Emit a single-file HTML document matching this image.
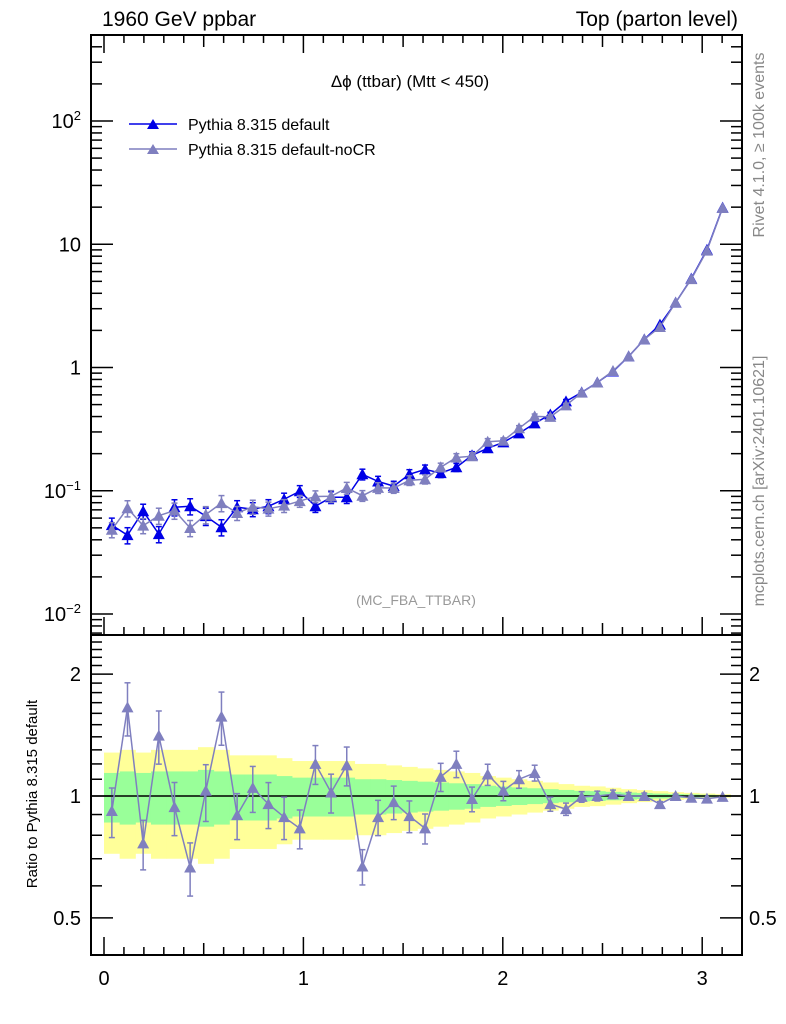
<!DOCTYPE html>
<html><head><meta charset="utf-8">
<style>
html,body{margin:0;padding:0;background:#fff;}
svg{display:block;font-family:"Liberation Sans",sans-serif;}
</style></head>
<body>
<svg id="chart" width="786" height="1024" viewBox="0 0 786 1024" xmlns="http://www.w3.org/2000/svg">
<text x="102" y="26" font-size="21">1960 GeV ppbar</text>
<text x="738" y="26" font-size="21" text-anchor="end">Top (parton level)</text>
<text x="410" y="87" font-size="17" text-anchor="middle">Δϕ (ttbar) (Mtt &lt; 450)</text>
<text x="416" y="605" font-size="14" fill="#999" text-anchor="middle">(MC_FBA_TTBAR)</text>
<text transform="translate(764,145) rotate(-90)" font-size="16" fill="#888" text-anchor="middle">Rivet 4.1.0, ≥ 100k events</text>
<text transform="translate(764,481) rotate(-90)" font-size="16" fill="#888" text-anchor="middle">mcplots.cern.ch [arXiv:2401.10621]</text>
<text transform="translate(37,794) rotate(-90)" font-size="15" text-anchor="middle">Ratio to Pythia 8.315 default</text>
<g>
<g>
<line x1="129" y1="124" x2="177" y2="124" stroke="#0000e6" stroke-width="1.5"/>
<path d="M147,129 L159,129 L153,119 Z" fill="#0000e6"/>
<text x="188" y="130" font-size="16">Pythia 8.315 default</text>
</g>
<g>
<line x1="129" y1="149" x2="177" y2="149" stroke="#7f7fbf" stroke-width="1.5"/>
<path d="M147,154 L159,154 L153,144 Z" fill="#7f7fbf"/>
<text x="188" y="155" font-size="16">Pythia 8.315 default-noCR</text>
</g>
</g>
<g id="g"></g>
</svg>
<script>
const defaultValues=[0.0526,0.0436,0.0682,0.0445,0.0735,0.0749,0.0622,0.0506,0.0735,0.0708,0.0749,0.0853,0.0991,0.0749,0.0885,0.0885,0.136,0.119,0.109,0.136,0.149,0.139,0.155,0.194,0.221,0.247,0.292,0.352,0.416,0.531,0.628,0.756,0.928,1.23,1.69,2.23,3.36,5.26,9.02,19.8];
const ratioValues=[0.918,1.655,0.764,1.41,0.939,0.666,1.03,1.57,0.897,1.047,0.955,0.887,0.832,1.20,1.02,1.19,0.670,0.887,0.966,0.892,0.832,1.115,1.20,0.983,1.13,1.03,1.10,1.14,0.955,0.928,0.995,1.0,1.01,1.0,1.0,0.955,1.0,0.99,0.985,0.995];
const relErrors=[0.14,0.15,0.14,0.15,0.15,0.15,0.16,0.15,0.13,0.13,0.13,0.12,0.11,0.11,0.11,0.11,0.10,0.10,0.095,0.09,0.085,0.08,0.075,0.07,0.06,0.055,0.05,0.045,0.04,0.035,0.03,0.028,0.024,0.02,0.017,0.014,0.011,0.009,0.007,0.005];
const xTickLabels=["0","1","2","3"];
const mainTickLabels=[[-2,"10<tspan dy='-8' font-size='13'>−2</tspan>"],[-1,"10<tspan dy='-8' font-size='13'>−1</tspan>"],[0,"1"],[1,"10"],[2,"10<tspan dy='-8' font-size='13'>2</tspan>"]];
const ratioTickLabels=["0.5","1","2"];

const NS="http://www.w3.org/2000/svg";
const G=document.getElementById('g');
const L=91,R=742,MT=35,MB=635,RB=955;
function X(v){return 104+v*199.4;}
function Ym(v){return 367.5-123.25*Math.log10(v);}
function Yr(v){return 796-405*Math.log10(v);}
function el(tag,attrs,parent){const e=document.createElementNS(NS,tag);for(const k in attrs)e.setAttribute(k,attrs[k]);(parent||G).appendChild(e);return e;}
const N=defaultValues.length,bw=Math.PI/N;
const centers=defaultValues.map((_,i)=>(i+0.5)*bw);
const noCR=defaultValues.map((v,i)=>v*ratioValues[i]);

const defs=el('defs',{});
const c1=el('clipPath',{id:'cm'},defs);el('rect',{x:L,y:MT,width:R-L,height:MB-MT},c1);
const c2=el('clipPath',{id:'cr'},defs);el('rect',{x:L,y:MB,width:R-L,height:RB-MB},c2);

const bands=el('g',{'clip-path':'url(#cr)'});


for(let i=0;i<N;i++){
  const x0=X(i*bw),x1=X((i+1)*bw),e=relErrors[i];
  const y=el('rect',{x:x0,y:Yr(1+2*e),width:x1-x0+0.5,height:Yr(1-2*e)-Yr(1+2*e),fill:'#ffff99'},bands);
  
  
}
for(let i=0;i<N;i++){
  const x0=X(i*bw),x1=X((i+1)*bw),e=relErrors[i];
  const g=el('rect',{x:x0,y:Yr(1+e),width:x1-x0+0.5,height:Yr(1-e)-Yr(1+e),fill:'#99ff99'},bands);
  
  
}
const one=el('line',{x1:L,x2:R,y1:Yr(1),y2:Yr(1),stroke:'#000','stroke-width':1.5});



function series(vals,errs,yf,color,name,clip){
  const g=el('g',{'clip-path':clip});
  
  
  el('polyline',{points:vals.map((v,i)=>X(centers[i])+','+yf(v)).join(' '),fill:'none',stroke:color,'stroke-width':1.5},g);
  vals.forEach((v,i)=>{
    const x=X(centers[i]),y=yf(v),yt=yf(v*(1+errs[i])),yb=yf(v*(1-errs[i]));
    if(yb-yt>3){
      el('line',{x1:x,x2:x,y1:yt,y2:yb,stroke:color,'stroke-width':1.5},g);
      el('line',{x1:x-3,x2:x+3,y1:yt,y2:yt,stroke:color,'stroke-width':1.5},g);
      el('line',{x1:x-3,x2:x+3,y1:yb,y2:yb,stroke:color,'stroke-width':1.5},g);
    }
    const m=el('path',{d:`M${x-6},${y+5} L${x+6},${y+5} L${x},${y-6} Z`,fill:color},g);
    
    
  });
}
series(defaultValues,relErrors,Ym,'#0000e6','series-default','url(#cm)');
series(noCR,relErrors,Ym,'#7f7fbf','series-nocr','url(#cm)');
series(ratioValues,relErrors,Yr,'#7f7fbf','ratio-series-nocr','url(#cr)');

const f1=el('rect',{x:L,y:MT,width:R-L,height:MB-MT,fill:'none',stroke:'#000','stroke-width':2});


const f2=el('rect',{x:L,y:MB,width:R-L,height:RB-MB,fill:'none',stroke:'#000','stroke-width':2});



const ax=el('g',{stroke:'#000','stroke-width':1.5});


for(let k=0;k<=32;k++){
  const v=k/10,x=X(v);if(x>R)break;
  const len=k%10==0?18:(k%5==0?12:8);
  [MB,RB].forEach(b=>{el('line',{x1:x,x2:x,y1:b,y2:b-len},ax);});
  el('line',{x1:x,x2:x,y1:MT,y2:MT+len},ax);
}
xTickLabels.forEach((t,i)=>{
  const tx=el('text',{x:X(i),y:985,'font-size':20,'text-anchor':'middle'});
  tx.textContent=t;
  
  
});

const ay=el('g',{stroke:'#000','stroke-width':1.5});


for(let d=-3;d<=2;d++){
  for(let m=1;m<=9;m++){
    const y=Ym(m*Math.pow(10,d));if(y<MT||y>MB)continue;
    const len=m==1?22:11;
    el('line',{x1:L,x2:L+len,y1:y,y2:y},ay);
    el('line',{x1:R,x2:R-len,y1:y,y2:y},ay);
  }
}
mainTickLabels.forEach(([d,t])=>{
  const tx=el('text',{x:81,y:Ym(Math.pow(10,d))+7,'font-size':20,'text-anchor':'end'});
  tx.innerHTML=t;
  
  
});

const ar=el('g',{stroke:'#000','stroke-width':1.5});


for(let k=4;k<=25;k++){
  const v=k/10,y=Yr(v);if(y<MB||y>RB)continue;
  const len=(k==5||k==10||k==20)?22:11;
  el('line',{x1:L,x2:L+len,y1:y,y2:y},ar);
  el('line',{x1:R,x2:R-len,y1:y,y2:y},ar);
}
ratioTickLabels.forEach(t=>{
  const v=parseFloat(t);
  const a=el('text',{x:81,y:Yr(v)+7,'font-size':20,'text-anchor':'end'});
  a.textContent=t;
  
  
  const b=el('text',{x:749,y:Yr(v)+7,'font-size':20});
  b.textContent=t;
  
  
});
</script>
</body></html>
